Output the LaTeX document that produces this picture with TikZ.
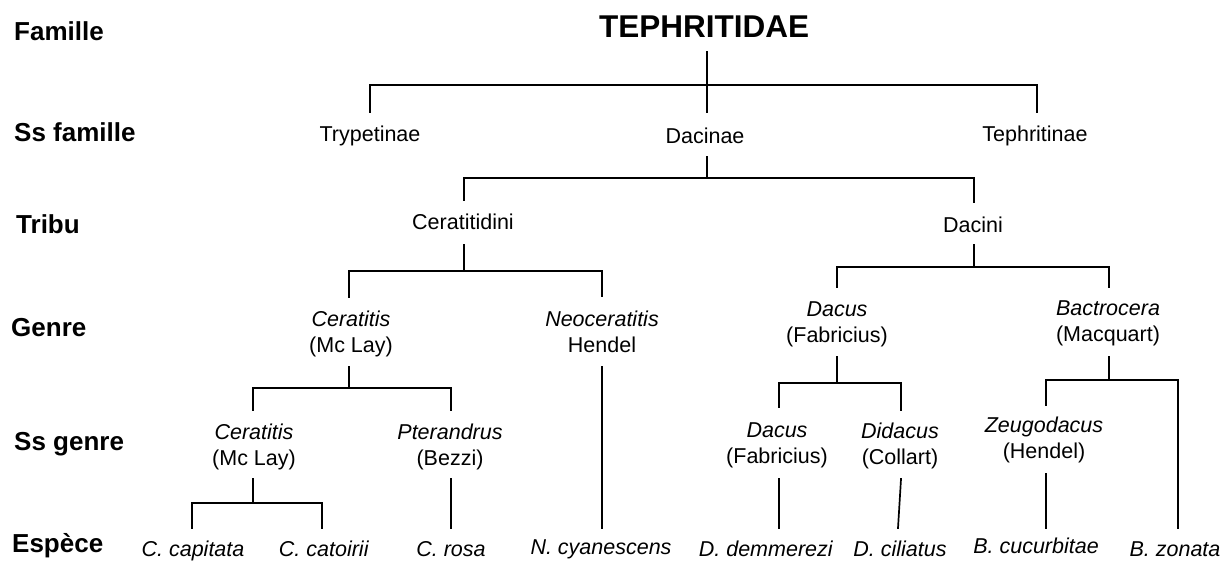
\documentclass[tikz,border=0pt]{standalone}
\usepackage{fontspec}
\setmainfont{Liberation Sans}
\begin{document}
\begin{tikzpicture}[x=1pt,y=-1pt,
  lvl/.style={font=\fontsize{26}{29}\selectfont\bfseries, anchor=base west, inner sep=0pt},
  ttl/.style={font=\fontsize{31.5}{34}\selectfont\bfseries, anchor=base, inner sep=0pt},
  tx/.style={font=\fontsize{21.5}{26}\selectfont, anchor=base, inner sep=0pt, align=center},
  ln/.style={line width=1.7pt, line cap=rect}]
\useasboundingbox (0,0) rectangle (1230,560);
% level labels
\node[lvl] (Lfam) at (14,40) {Famille};
\node[lvl] (Lsfam) at (14,141) {Ss famille};
\node[lvl] (Ltri) at (16,233) {Tribu};
\node[lvl] (Lgen) at (11,336) {Genre};
\node[lvl] (Lsgen) at (14,450) {Ss genre};
\node[lvl] (Lesp) at (12,552) {Espèce};
% title
\node[ttl] (teph) at (704,37) {TEPHRITIDAE};
% subfamilies
\node[tx] (tryp) at (370,141) {Trypetinae};
\node[tx] (daci) at (705,143) {Dacinae};
\node[tx] (tephr) at (1035,141) {Tephritinae};
% tribes
\node[tx] (cerat) at (463,229) {Ceratitidini};
\node[tx] (dacini) at (973,232) {Dacini};
% genera (y = baseline of the second line)
\node[tx] (gCer) at (351,352) {\textit{Ceratitis}\\(Mc Lay)};
\node[tx] (gNeo) at (602,352) {\textit{Neoceratitis}\\Hendel};
\node[tx] (gDac) at (837,342) {\textit{Dacus}\\(Fabricius)};
\node[tx] (gBac) at (1108,341) {\textit{Bactrocera}\\(Macquart)};
% subgenera
\node[tx] (sCer) at (254,465) {\textit{Ceratitis}\\(Mc Lay)};
\node[tx] (sPte) at (450,465) {\textit{Pterandrus}\\(Bezzi)};
\node[tx] (sDac) at (777,463) {\textit{Dacus}\\(Fabricius)};
\node[tx] (sDid) at (900,464) {\textit{Didacus}\\(Collart)};
\node[tx] (sZeu) at (1044,458) {\textit{Zeugodacus}\\(Hendel)};
% species
\node[tx] (cap) at (193,556) {\textit{C. capitata}};
\node[tx] (cat) at (324,556) {\textit{C. catoirii}};
\node[tx] (ros) at (451,556) {\textit{C. rosa}};
\node[tx] (cya) at (601,554) {\textit{N. cyanescens}};
\node[tx] (dem) at (766,556) {\textit{D. demmerezi}};
\node[tx] (cil) at (900,556) {\textit{D. ciliatus}};
\node[tx] (cuc) at (1036,553) {\textit{B. cucurbitae}};
\node[tx] (zon) at (1175,556) {\textit{B. zonata}};
% connector end points
\coordinate (tephB) at (707,52);
\coordinate (trypT) at (370,112);
\coordinate (daciT) at (707,112);
\coordinate (tephrT) at (1037,112);
\coordinate (daciB) at (707,157);
\coordinate (ceratT) at (464,200);
\coordinate (daciniT) at (974,202);
\coordinate (ceratB) at (464,245);
\coordinate (gCerT) at (349,297);
\coordinate (gNeoT) at (602,296);
\coordinate (daciniB) at (974,245);
\coordinate (gDacT) at (837,287);
\coordinate (gBacT) at (1109,287);
\coordinate (gCerB) at (349,367);
\coordinate (sCerT) at (253,410);
\coordinate (sPteT) at (451,410);
\coordinate (gNeoB) at (602,367);
\coordinate (cyaT) at (602,528);
\coordinate (gDacB) at (837,357);
\coordinate (sDacT) at (779,407);
\coordinate (sDidT) at (901,410);
\coordinate (gBacB) at (1109,357);
\coordinate (sZeuT) at (1046,405);
\coordinate (zonT) at (1178,528);
\coordinate (sCerB) at (253,479);
\coordinate (capT) at (192,528);
\coordinate (catT) at (322,528);
\coordinate (sPteB) at (451,479);
\coordinate (rosT) at (451,528);
\coordinate (sDacB) at (779,479);
\coordinate (demT) at (779,528);
\coordinate (sDidB) at (901,479);
\coordinate (cilT) at (898,528);
\coordinate (sZeuB) at (1046,474);
\coordinate (cucT) at (1046,528);
% connectors
\draw[ln] (tephB) -- (daciT);
\draw[ln] (trypT) -- ++(0,-27) -| (tephrT);
\draw[ln] (daciB) -- ++(0,21);
\draw[ln] (ceratT) -- ++(0,-22) -| (daciniT);
\draw[ln] (ceratB) -- ++(0,26);
\draw[ln] (gCerT) -- ++(0,-26) -| (gNeoT);
\draw[ln] (daciniB) -- ++(0,22);
\draw[ln] (gDacT) -- ++(0,-20) -| (gBacT);
\draw[ln] (gCerB) -- ++(0,21);
\draw[ln] (sCerT) -- ++(0,-22) -| (sPteT);
\draw[ln] (gNeoB) -- (cyaT);
\draw[ln] (gDacB) -- ++(0,26);
\draw[ln] (sDacT) -- ++(0,-24) -| (sDidT);
\draw[ln] (gBacB) -- ++(0,23);
\draw[ln] (sZeuT) -- ++(0,-25) -| (zonT);
\draw[ln] (sCerB) -- ++(0,24);
\draw[ln] (capT) -- ++(0,-25) -| (catT);
\draw[ln] (sPteB) -- (rosT);
\draw[ln] (sDacB) -- (demT);
\draw[ln] (sDidB) -- (cilT);
\draw[ln] (sZeuB) -- (cucT);
\end{tikzpicture}
\end{document}
